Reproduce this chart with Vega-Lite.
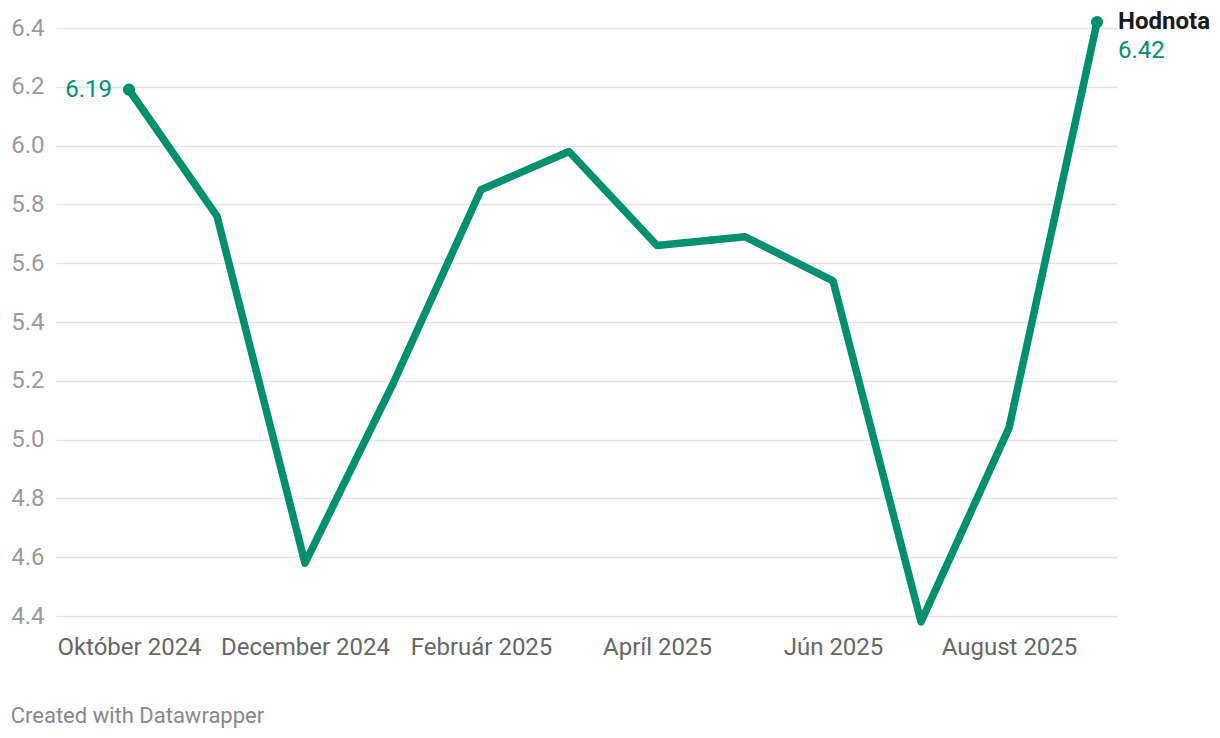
{
  "$schema": "https://vega.github.io/schema/vega-lite/v6.json",
  "autosize": "none",
  "width": 1061,
  "height": 588,
  "padding": {"left": 56, "top": 28, "right": 103, "bottom": 122},
  "background": "white",
  "config": {
    "font": "Roboto",
    "view": {"stroke": null}
  },
  "title": {
    "text": "Created with Datawrapper",
    "orient": "bottom",
    "anchor": "start",
    "frame": "bounds",
    "dx": 0,
    "offset": 47,
    "fontSize": 22,
    "fontWeight": "normal",
    "color": "#888888",
    "font": "Roboto"
  },
  "data": {
    "values": [
      {"i": 0, "month": "Október 2024", "value": 6.19},
      {"i": 1, "month": "November 2024", "value": 5.76},
      {"i": 2, "month": "December 2024", "value": 4.58},
      {"i": 3, "month": "Január 2025", "value": 5.19},
      {"i": 4, "month": "Február 2025", "value": 5.85},
      {"i": 5, "month": "Marec 2025", "value": 5.98},
      {"i": 6, "month": "Apríl 2025", "value": 5.66},
      {"i": 7, "month": "Máj 2025", "value": 5.69},
      {"i": 8, "month": "Jún 2025", "value": 5.54},
      {"i": 9, "month": "Júl 2025", "value": 4.38},
      {"i": 10, "month": "August 2025", "value": 5.04},
      {"i": 11, "month": "September 2025", "value": 6.42}
    ]
  },
  "encoding": {
    "x": {
      "field": "i",
      "type": "quantitative",
      "scale": {"domain": [-0.8295, 11.227], "nice": false, "zero": false},
      "axis": {
        "title": null,
        "values": [0, 2, 4, 6, 8, 10],
        "labelExpr": "['Október 2024','November 2024','December 2024','Január 2025','Február 2025','Marec 2025','Apríl 2025','Máj 2025','Jún 2025','Júl 2025','August 2025','September 2025'][datum.value]",
        "grid": false,
        "domain": false,
        "ticks": false,
        "labelPadding": 19,
        "labelFontSize": 24,
        "labelColor": "#666666",
        "labelFont": "Roboto",
        "labelFlush": false,
        "labelOverlap": false
      }
    },
    "y": {
      "field": "value",
      "type": "quantitative",
      "scale": {"domain": [4.4, 6.4], "nice": false, "zero": false},
      "axis": {
        "title": null,
        "values": [4.4, 4.6, 4.8, 5.0, 5.2, 5.4, 5.6, 5.8, 6.0, 6.2, 6.4],
        "format": ".1f",
        "grid": true,
        "gridColor": "#e3e3e3",
        "gridWidth": 1.5,
        "domain": false,
        "ticks": false,
        "labelPadding": 12,
        "labelFontSize": 24,
        "labelColor": "#9a9a9a",
        "labelFont": "Roboto",
        "labelBaseline": "middle"
      }
    }
  },
  "layer": [
    {
      "mark": {"type": "line", "color": "#00906e", "strokeWidth": 7.5, "strokeJoin": "round", "strokeCap": "round"}
    },
    {
      "transform": [{"filter": "datum.i == 0 || datum.i == 11"}],
      "mark": {"type": "point", "filled": true, "color": "#00906e", "size": 150, "opacity": 1}
    },
    {
      "transform": [{"filter": "datum.i == 0"}],
      "mark": {"type": "text", "align": "right", "baseline": "middle", "dx": -17, "fontSize": 24, "color": "#00906e", "font": "Roboto"},
      "encoding": {"text": {"field": "value", "type": "quantitative", "format": ".2f"}}
    },
    {
      "transform": [{"filter": "datum.i == 11"}],
      "mark": {"type": "text", "align": "left", "baseline": "middle", "dx": 21, "dy": 0, "fontSize": 24, "fontWeight": "bold", "color": "#1a1a1a", "font": "Roboto", "text": "Hodnota"}
    },
    {
      "transform": [{"filter": "datum.i == 11"}],
      "mark": {"type": "text", "align": "left", "baseline": "middle", "dx": 21, "dy": 29, "fontSize": 24, "color": "#00906e", "font": "Roboto"},
      "encoding": {"text": {"field": "value", "type": "quantitative", "format": ".2f"}}
    }
  ]
}
